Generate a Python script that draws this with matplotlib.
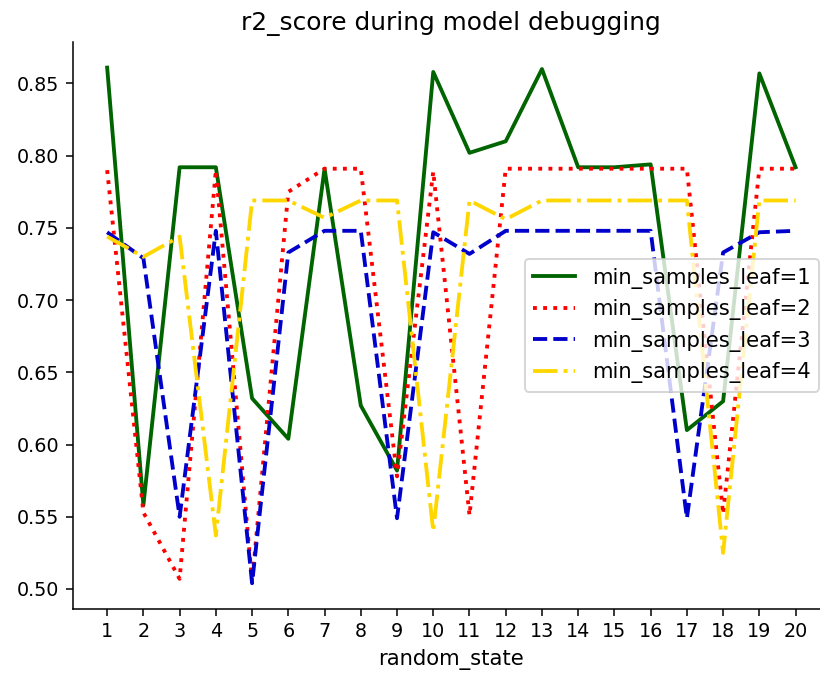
import numpy as np
import matplotlib
matplotlib.use('Agg')
import matplotlib.pyplot as plt

random_state = list(range(1, 21))
leaf1 = [0.861, 0.558, 0.792, 0.792, 0.632, 0.604, 0.791, 0.627, 0.582, 0.858,
         0.802, 0.810, 0.860, 0.792, 0.792, 0.794, 0.610, 0.630, 0.857, 0.792]
leaf2 = [0.790, 0.553, 0.507, 0.790, 0.505, 0.775, 0.791, 0.791, 0.578, 0.789,
         0.551, 0.791, 0.791, 0.791, 0.791, 0.791, 0.791, 0.552, 0.791, 0.791]
leaf3 = [0.747, 0.729, 0.550, 0.748, 0.504, 0.733, 0.748, 0.748, 0.549, 0.747,
         0.732, 0.748, 0.748, 0.748, 0.748, 0.748, 0.549, 0.733, 0.747, 0.748]
leaf4 = [0.744, 0.730, 0.744, 0.537, 0.769, 0.769, 0.757, 0.769, 0.769, 0.540,
         0.769, 0.756, 0.769, 0.769, 0.769, 0.769, 0.769, 0.525, 0.769, 0.769]

dpi = 138
fig = plt.figure(figsize=(820 / dpi, 679 / dpi), dpi=dpi)
# axes runs past the right edge, the original picture was cropped there
ax = fig.add_axes([0.0887, 0.1031, 0.9235, 0.8353])

ax.plot(random_state, leaf1, color='darkgreen', linestyle='-', linewidth=2, label='min_samples_leaf=1')
ax.plot(random_state, leaf2, color='red', linestyle=':', linewidth=2, label='min_samples_leaf=2')
ax.plot(random_state, leaf3, color='mediumblue', linestyle='--', linewidth=2, label='min_samples_leaf=3')
ax.plot(random_state, leaf4, color='gold', linestyle='-.', linewidth=2, label='min_samples_leaf=4')

ax.set_xticks(random_state)
ax.set_xlabel('random_state', fontsize=11)
ax.set_title('r2_score during model debugging', fontsize=13)
ax.spines['top'].set_visible(False)
ax.spines['right'].set_visible(False)
ax.legend(loc='center right', fontsize=11)

fig.savefig('out.png', dpi=dpi)
